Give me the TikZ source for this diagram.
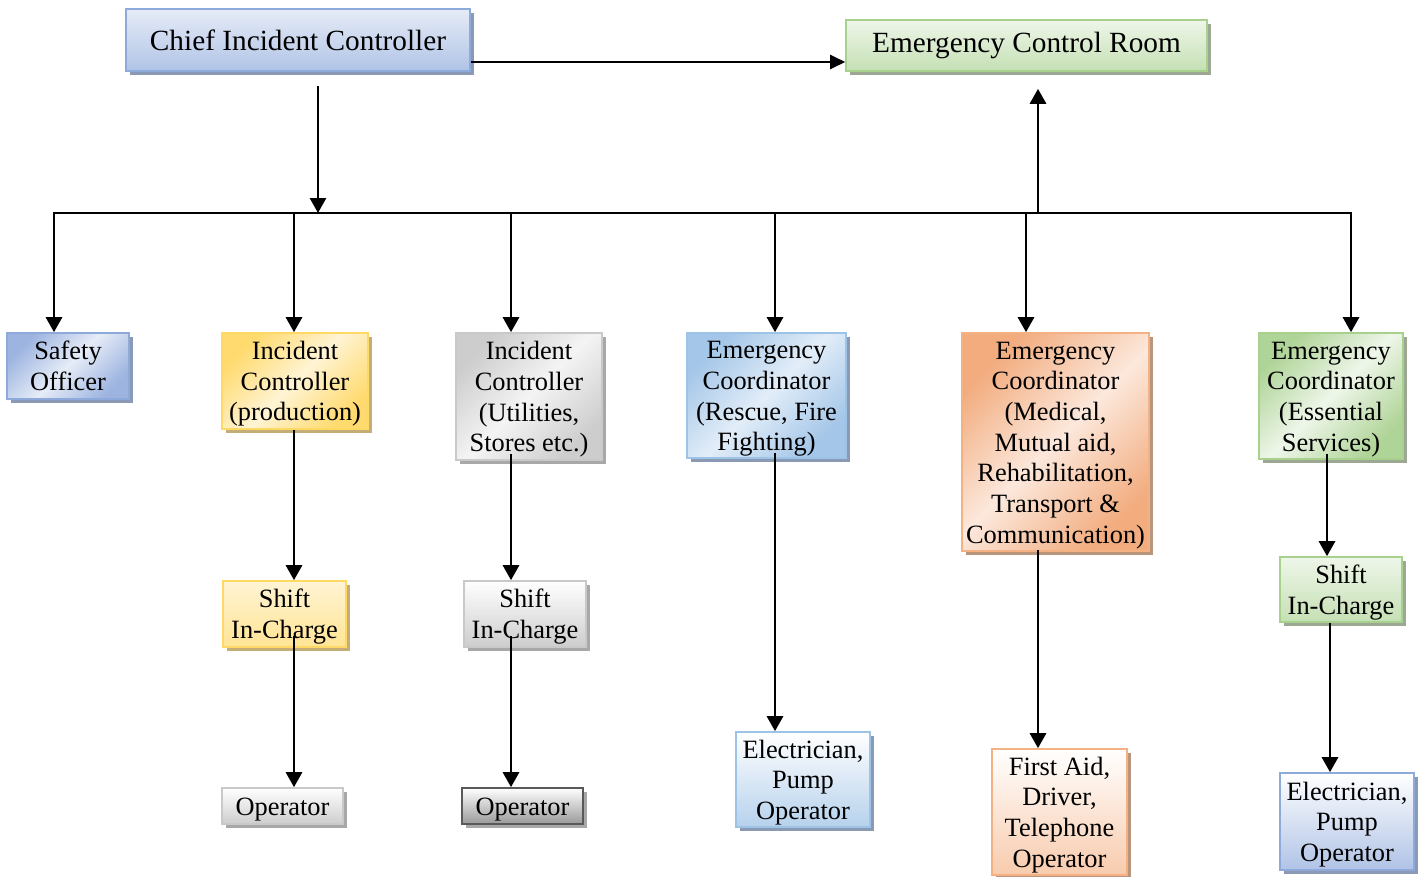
\documentclass[tikz,border=0pt]{standalone}
\usepackage{fontspec}
\setmainfont{Liberation Serif}
\usetikzlibrary{arrows.meta,shadows}
\newcommand\tstr{\rule{0pt}{24pt}}
\definecolor{blBd}{HTML}{8EAADB}
\definecolor{blSh}{HTML}{8A9AB4}
\definecolor{blL}{HTML}{E6ECF7}
\definecolor{blD}{HTML}{B0C3E6}
\definecolor{blD2}{HTML}{9DB4E0}
\definecolor{skBd}{HTML}{9DC3E6}
\definecolor{skL}{HTML}{E2EDF8}
\definecolor{skD}{HTML}{A4C6E8}
\definecolor{grBd}{HTML}{A9D18E}
\definecolor{grSh}{HTML}{9CA894}
\definecolor{grL}{HTML}{EEF6E9}
\definecolor{grD}{HTML}{C5E0B4}
\definecolor{grD2}{HTML}{AFD497}
\definecolor{yeBd}{HTML}{FFD966}
\definecolor{yeSh}{HTML}{C4AE78}
\definecolor{yeL}{HTML}{FFF4D4}
\definecolor{yeD}{HTML}{FFDA6E}
\definecolor{gyBd}{HTML}{C9C9C9}
\definecolor{gySh}{HTML}{A8A8A8}
\definecolor{gyL}{HTML}{F4F4F4}
\definecolor{gyD}{HTML}{CDCDCD}
\definecolor{orBd}{HTML}{F4B183}
\definecolor{orSh}{HTML}{B8957C}
\definecolor{orL}{HTML}{FCE8DC}
\definecolor{orD}{HTML}{F2AC7E}
\definecolor{orD2}{HTML}{F8CBAD}
\begin{document}
\begin{tikzpicture}[x=1pt,y=-1pt,
  base/.style={rectangle, inner sep=0pt, align=center, line width=1.6pt,
    font=\fontsize{26.4}{30.7}\selectfont},
  big/.style={font=\fontsize{29.3}{33}\selectfont},
  sh/.style={general shadow={fill=#1, shadow xshift=4pt, shadow yshift=-4pt}},
  sz/.style 2 args={minimum width=#1, minimum height=#2},
  diag/.style 2 args={top color=#1, bottom color=#1, middle color=#2, shading angle=45},
  chiefbox/.style={base, big, draw=blBd, top color=blL, bottom color=blD, sh=blSh},
  ecrbox/.style={base, big, draw=grBd, top color=grL, bottom color=grD, sh=grSh},
  safebox/.style={base, draw=blBd, diag={blD2}{blL}, sh=blSh},
  yelbox/.style={base, draw=yeBd, diag={yeD}{yeL}, sh=yeSh},
  greybox/.style={base, draw=gyBd, diag={gyD}{gyL}, sh=gySh},
  skybox/.style={base, draw=skBd, diag={skD}{skL}, sh=blSh},
  orbox/.style={base, draw=orBd, diag={orD}{orL}, sh=orSh},
  grnbox/.style={base, draw=grBd, diag={grD2}{grL}, sh=grSh},
  yelshift/.style={base, draw=yeBd, top color=yeL, bottom color=yeBd!70, sh=yeSh},
  greyshift/.style={base, draw=gyBd, top color=white, bottom color=gyD, sh=gySh},
  grnshift/.style={base, draw=grBd, top color=grL, bottom color=grD, sh=grSh},
  opbox/.style={base, draw=gyBd, top color=white, bottom color=gyD, sh=gySh},
  opdark/.style={base, draw=black!65, top color=white, bottom color=black!40, sh=gySh},
  elbox/.style={base, draw=skBd, top color=white, bottom color=skD!80, sh=blSh},
  fabox/.style={base, draw=orBd, top color=white, bottom color=orD2, sh=orSh},
  el2box/.style={base, draw=blBd, top color=white, bottom color=blD, sh=blSh},
  arr/.style={line width=2.8pt, -{Triangle[length=15pt,width=16pt]}},
  harr/.style={line width=2.2pt, -{Triangle[length=15pt,width=14pt]}},
  ln/.style={line width=2.1pt}
]
\useasboundingbox (0,0) rectangle (1421,876);

% top row
\node[chiefbox, sz={344pt}{62pt}] (chief) at (298,40) {Chief Incident Controller};
\node[ecrbox, sz={361pt}{51pt}] (ecr) at (1026.5,45.5) {Emergency Control Room};

% second row
\node[safebox, sz={122pt}{66pt}] (safe) at (68,366) {Safety\\Officer};
\node[yelbox, sz={146pt}{96pt}] (icp) at (295,381) {\tstr Incident\\Controller\\(production)};
\node[greybox, sz={146pt}{127pt}] (icu) at (529,396.5) {\tstr Incident\\Controller\\(Utilities,\\Stores etc.)};
\node[skybox, sz={159pt}{125pt}] (ecres) at (766.5,395.5) {\tstr Emergency\\Coordinator\\(Rescue, Fire\\Fighting)};
\node[orbox, sz={187pt}{218pt}] (ecmed) at (1055.5,442) {\tstr Emergency\\Coordinator\\(Medical,\\Mutual aid,\\Rehabilitation,\\Transport \&\\Communication)};
\node[grnbox, sz={144pt}{126pt}] (ecess) at (1331,396) {\tstr Emergency\\Coordinator\\(Essential\\Services)};

% third row
\node[yelshift, sz={123pt}{66pt}] (shy) at (284.5,614) {\tstr Shift\\In-Charge};
\node[greyshift, sz={122pt}{66pt}] (shg) at (525,614) {\tstr Shift\\In-Charge};
\node[grnshift, sz={122pt}{65pt}] (shn) at (1341,589.5) {\tstr Shift\\In-Charge};

% fourth row
\node[opbox, sz={121pt}{36pt}] (op1) at (282.5,806) {\tstr Operator};
\node[opdark, sz={121pt}{36pt}] (op2) at (522.5,806) {\tstr Operator};
\node[elbox, sz={134pt}{95pt}] (el1) at (803,779.5) {\tstr Electrician,\\Pump\\Operator};
\node[fabox, sz={135pt}{126pt}] (fa) at (1059.5,812) {\tstr First Aid,\\Driver,\\Telephone\\Operator};
\node[el2box, sz={134pt}{97pt}] (el2) at (1347,821.5) {\tstr Electrician,\\Pump\\Operator};

% x positions of the vertical connectors
\coordinate (xa) at (294,0);
\coordinate (xb) at (511,0);
\coordinate (xc) at (775,0);
\coordinate (xd) at (1026,0);
\coordinate (xe) at (1038,0);
\coordinate (xf) at (1327,0);
\coordinate (xg) at (1330,0);

% connectors at the top
\coordinate (cdown) at (318,86);
\coordinate (bl) at (54,213);
\coordinate (br) at (1351,213);
\coordinate (bc) at (318,213);
\coordinate (bup) at (1038,213);
\draw[harr] ([yshift=-22pt]chief.east) -- ([yshift=-22pt]chief.east -| ecr.west);
\draw[arr] (cdown) -- (bc);
\draw[ln] ([xshift=-1pt]bl) -- ([xshift=1pt]br);
\draw[arr] (bup) -- ([yshift=-17pt]bup |- ecr.south);

% drops from the bus
\draw[arr] (bl) -- (bl |- safe.north);
\draw[arr] (bl -| xa) -- (icp.north -| xa);
\draw[arr] (bl -| xb) -- (icu.north -| xb);
\draw[arr] (bl -| xc) -- (ecres.north -| xc);
\draw[arr] (bl -| xd) -- (ecmed.north -| xd);
\draw[arr] (br) -- (br |- ecess.north);

% lower connectors
\draw[arr] (icp.south -| xa) -- (shy.north -| xa);
\draw[arr] ([yshift=12pt]shy.south -| xa) -- (op1.north -| xa);
\draw[arr] ([yshift=7pt]icu.south -| xb) -- (shg.north -| xb);
\draw[arr] ([yshift=12pt]shg.south -| xb) -- (op2.north -| xb);
\draw[arr] ([yshift=6pt]ecres.south -| xc) -- (el1.north -| xc);
\draw[arr] ([yshift=2pt]ecmed.south -| xe) -- (fa.north -| xe);
\draw[arr] ([yshift=6pt]ecess.south -| xf) -- (shn.north -| xf);
\draw[arr] (shn.south -| xg) -- (el2.north -| xg);
\end{tikzpicture}
\end{document}
